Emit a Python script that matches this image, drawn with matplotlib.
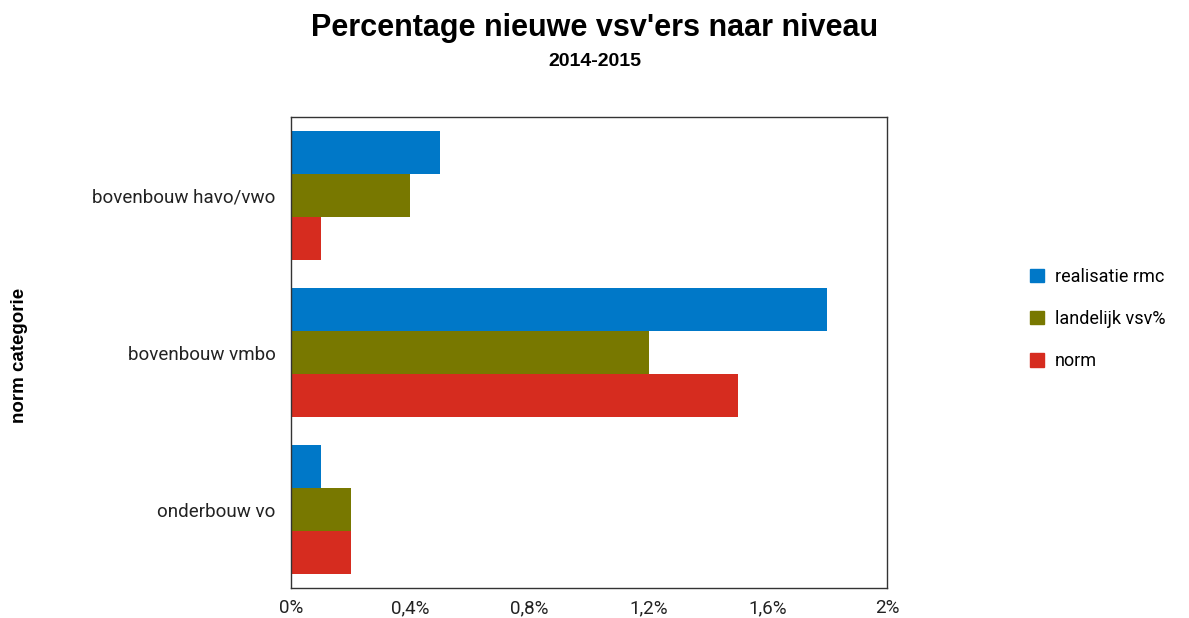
import numpy as np
import matplotlib.pyplot as plt
from matplotlib.patches import Patch
from matplotlib.ticker import FuncFormatter

categories = ['bovenbouw havo/vwo', 'bovenbouw vmbo', 'onderbouw vo']
series = ['realisatie rmc', 'landelijk vsv%', 'norm']
realisatie = [0.5, 1.8, 0.1]
landelijk = [0.4, 1.2, 0.2]
norm = [0.1, 1.5, 0.2]
colors = ['#0078C8', '#787800', '#D62C1F']

plt.rcParams['font.family'] = ['Roboto', 'DejaVu Sans']

fig = plt.figure(figsize=(11.89, 6.18), dpi=100)
ax = fig.add_axes([0.2447, 0.0485, 0.5013, 0.7622])

y = np.arange(len(categories))
h = 0.275
for i, (vals, c) in enumerate(zip([realisatie, landelijk, norm], colors)):
    ax.barh(y + (i - 1) * h, vals, height=h, color=c, label=series[i])

ax.set_xlim(0, 2)
ax.set_ylim(2.5, -0.5)
ax.set_yticks(y)
ax.set_yticklabels(categories)
ax.set_xticks([0, 0.4, 0.8, 1.2, 1.6, 2])
ax.xaxis.set_major_formatter(FuncFormatter(
    lambda v, p: ('%g' % round(v, 1)).replace('.', ',') + '%'))
ax.tick_params(axis='both', length=0, labelsize=13.5, colors='#222222')
ax.tick_params(axis='y', pad=11)
ax.tick_params(axis='x', pad=8)
for s in ax.spines.values():
    s.set_color('#333333')
    s.set_linewidth(1)

# y-axis title placed in figure coords
fig.text(20 / 1189, 1 - 355 / 618, 'norm categorie', rotation=90,
         ha='center', va='center', fontsize=13.5, fontweight='bold',
         family=['Liberation Sans', 'DejaVu Sans'])

fig.text(0.5, 0.955, "Percentage nieuwe vsv'ers naar niveau", ha='center',
         va='center', fontsize=22, fontweight='bold',
         family=['Liberation Sans', 'DejaVu Sans'])
fig.text(0.5, 0.9, '2014-2015', ha='center', va='center', fontsize=14,
         fontweight='bold', family=['Liberation Sans', 'DejaVu Sans'])

handles = [Patch(color=c) for c in colors]
fig.legend(handles, series, loc='center left', bbox_to_anchor=(0.853, 0.484),
           frameon=False, fontsize=13, handlelength=0.75, handleheight=0.75,
           labelspacing=1.35, handletextpad=0.6)

fig.savefig('out.png', dpi=100)
